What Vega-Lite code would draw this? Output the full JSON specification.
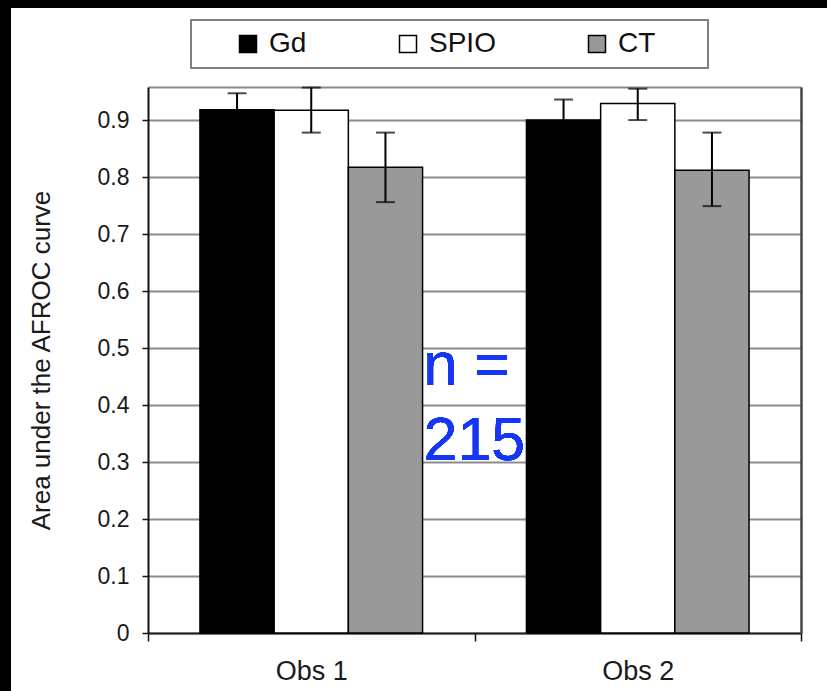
{
  "$schema": "https://vega.github.io/schema/vega-lite/v6.json",
  "width": 816,
  "height": 683,
  "autosize": "none",
  "padding": {"left": 11, "top": 8, "right": 0, "bottom": 0},
  "background": "black",
  "config": {
    "view": {"fill": "white", "stroke": null},
    "font": "Liberation Sans",
    "legend": {"strokeWidth": 2}
  },
  "data": {
    "values": [
      {"obs": "Obs 1", "modality": "Gd", "auc": 0.918, "lo": 0.89, "hi": 0.947},
      {"obs": "Obs 1", "modality": "SPIO", "auc": 0.917, "lo": 0.878, "hi": 0.957},
      {"obs": "Obs 1", "modality": "CT", "auc": 0.817, "lo": 0.756, "hi": 0.878},
      {"obs": "Obs 2", "modality": "Gd", "auc": 0.9, "lo": 0.864, "hi": 0.936},
      {"obs": "Obs 2", "modality": "SPIO", "auc": 0.929, "lo": 0.9, "hi": 0.955},
      {"obs": "Obs 2", "modality": "CT", "auc": 0.812, "lo": 0.749, "hi": 0.878}
    ]
  },
  "layer": [
    {
      "mark": {"type": "bar", "stroke": "black", "strokeWidth": 1.5},
      "encoding": {
        "x": {
          "field": "obs", "type": "nominal", "title": null,
          "scale": {"range": [137, 790], "paddingInner": 0, "paddingOuter": 0},
          "axis": {
            "orient": "bottom", "offset": -58, "labelAngle": 0,
            "labelFontSize": 27, "labelColor": "#1a1a1a", "labelPadding": 17,
            "tickBand": "extent", "tickSize": 8, "tickColor": "#111", "tickWidth": 1.5,
            "domainColor": "#222", "domainWidth": 2, "grid": false
          }
        },
        "xOffset": {
          "field": "modality", "type": "nominal",
          "scale": {"domain": ["Gd", "SPIO", "CT"], "paddingInner": 0, "paddingOuter": 0.7}
        },
        "y": {
          "field": "auc", "type": "quantitative",
          "title": "Area under the AFROC curve",
          "scale": {"domain": [0, 0.958], "nice": false, "zero": true, "range": [625, 79]},
          "axis": {
            "orient": "left", "offset": -137,
            "values": [0, 0.1, 0.2, 0.3, 0.4, 0.5, 0.6, 0.7, 0.8, 0.9],
            "format": ".1~f",
            "labelFontSize": 23, "labelColor": "#1a1a1a", "labelPadding": 13,
            "tickSize": 6, "tickColor": "#111", "tickWidth": 1.5,
            "domainColor": "#111", "domainWidth": 2,
            "grid": true, "gridColor": "#8c8c8c", "gridWidth": 1.8,
            "titleFontSize": 26, "titleFontWeight": "normal", "titleColor": "#1a1a1a",
            "titlePadding": 43
          }
        },
        "fill": {
          "field": "modality", "type": "nominal",
          "scale": {"domain": ["Gd", "SPIO", "CT"], "range": ["#000000", "#ffffff", "#999999"]},
          "legend": {
            "orient": "none", "legendX": 180, "legendY": 12, "direction": "horizontal",
            "title": null,
            "symbolOffset": 33,
            "symbolType": "square", "symbolSize": 289, "symbolStrokeColor": "black", "symbolStrokeWidth": 1.5,
            "labelFontSize": 28, "labelColor": "#111", "labelOffset": 7,
            "labelExpr": "datum.label == 'CT' ? 'CT\u2800\u2800' : datum.label",
            "columnPadding": 54, "padding": 10,
            "strokeColor": "#808080"
          }
        }
      }
    },
    {
      "mark": {"type": "rule", "color": "#000000", "strokeWidth": 2},
      "encoding": {
        "x": {"field": "obs", "type": "nominal",
          "axis": {"orient": "top", "offset": -79, "labels": false, "ticks": false, "title": null, "grid": false, "domainColor": "#8a8a8a", "domainWidth": 2}},
        "xOffset": {"field": "modality", "type": "nominal"},
        "y": {"field": "lo", "type": "quantitative",
          "axis": {"orient": "right", "offset": -26, "labels": false, "ticks": false, "title": null, "grid": false, "domainColor": "#444", "domainWidth": 2.5}},
        "y2": {"field": "hi"}
      }
    },
    {
      "mark": {"type": "tick", "color": "#000000", "thickness": 2, "size": 19, "orient": "horizontal"},
      "encoding": {
        "x": {"field": "obs", "type": "nominal", "axis": null},
        "xOffset": {"field": "modality", "type": "nominal"},
        "y": {"field": "lo", "type": "quantitative", "axis": null}
      }
    },
    {
      "mark": {"type": "tick", "color": "#000000", "thickness": 2, "size": 19, "orient": "horizontal"},
      "encoding": {
        "x": {"field": "obs", "type": "nominal", "axis": null},
        "xOffset": {"field": "modality", "type": "nominal"},
        "y": {"field": "hi", "type": "quantitative", "axis": null}
      }
    },
    {
      "mark": {"type": "text", "align": "left", "baseline": "alphabetic", "fontSize": 61, "color": "#1537f5", "dx": -51, "lineHeight": 75, "font": "Liberation Sans"},
      "encoding": {
        "x": {"datum": "Obs 1", "type": "nominal", "bandPosition": 1, "axis": null},
        "y": {"datum": 0.435, "type": "quantitative", "axis": null},
        "text": {"value": ["n =", "215"]}
      }
    }
  ],
  "resolve": {"axis": {"x": "independent", "y": "independent"}}
}
